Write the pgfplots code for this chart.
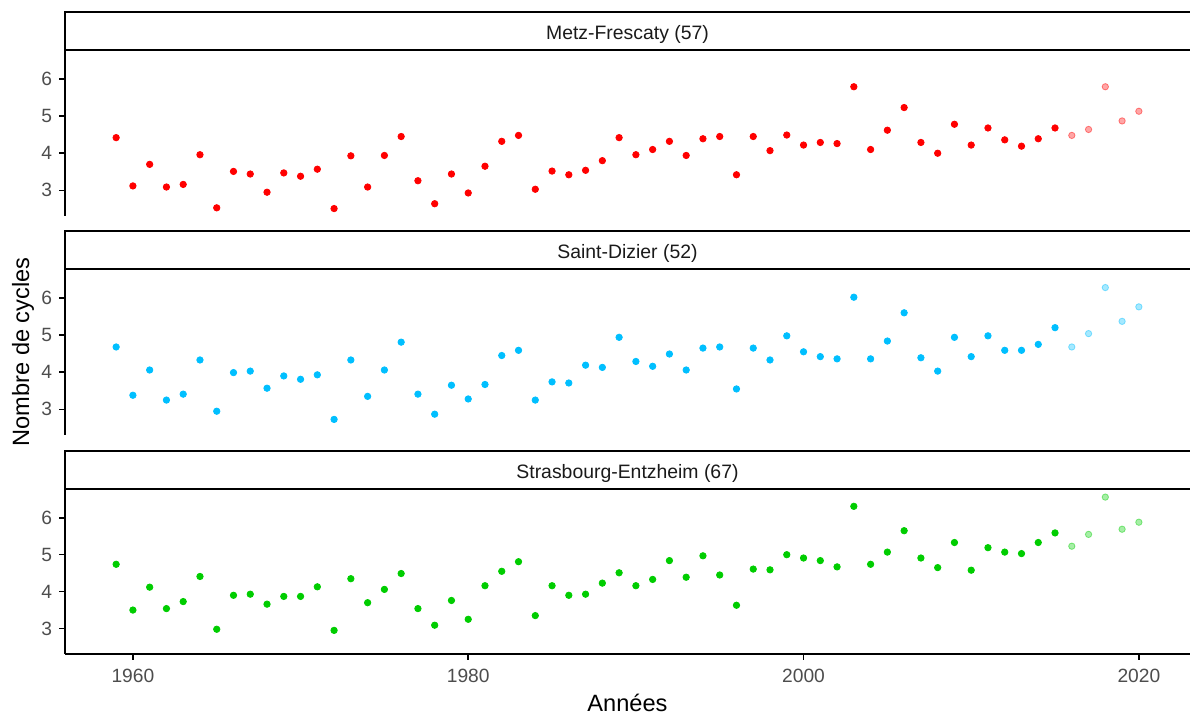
\documentclass[border=0pt]{standalone}
\usepackage{fontspec}
\setmainfont{Liberation Sans}
\usepackage{pgfplots}
\pgfplotsset{compat=1.18}
\definecolor{gthirty}{HTML}{4D4D4D}
\definecolor{gten}{HTML}{1A1A1A}
\definecolor{cred}{HTML}{FF0000}
\definecolor{cblue}{HTML}{00BFFF}
\definecolor{cgreen}{HTML}{00CD00}
\pgfplotsset{
  panel/.style={
    scale only axis, width=562.5pt, anchor=south west,
    xmin=1955.95, xmax=2023.05, ymin=2.31, ymax=6.78,
    ytick={3,4,5,6},
    axis y line*=left,
    axis line style={-, line width=0.8pt, black},
    tick style={line width=0.8pt, black},
    tick align=outside, major tick length=3pt,
    ticklabel style={font=\fontsize{9.6}{11}\selectfont, text=gthirty},
    xticklabel style={yshift=-1pt},
    /pgf/number format/assume math mode=true,
    /pgf/number format/1000 sep={},
    clip=false,
  },
  dk/.style={only marks, mark=*, mark size=1.6pt, draw=#1, fill=#1},
  lt/.style={only marks, mark=*, mark size=1.6pt, draw=#1, fill=#1, mark options={fill opacity=0.35, draw opacity=0.45}},
}
\newcommand{\strip}[1]{%
  \draw[line width=1pt, fill=white] (rel axis cs:0,1) rectangle ([yshift=19pt]rel axis cs:1.03,1);
  \node[font=\fontsize{9.7}{11}\selectfont, text=gten] at ([yshift=8pt]rel axis cs:0.5,1) {#1};
}
\begin{document}
\begin{tikzpicture}
\useasboundingbox (0,0) rectangle (595pt,358.5pt);
% Panel 1
\begin{axis}[panel, at={(32.5pt,250.5pt)}, height=83pt, axis x line=none, xtick=\empty]
\addplot[dk=cred] table {
1959 4.42
1960 3.12
1961 3.70
1962 3.09
1963 3.16
1964 3.96
1965 2.53
1966 3.51
1967 3.44
1968 2.95
1969 3.47
1970 3.38
1971 3.57
1972 2.51
1973 3.93
1974 3.09
1975 3.94
1976 4.45
1977 3.26
1978 2.64
1979 3.44
1980 2.93
1981 3.65
1982 4.32
1983 4.48
1984 3.03
1985 3.52
1986 3.42
1987 3.54
1988 3.80
1989 4.42
1990 3.96
1991 4.10
1992 4.32
1993 3.94
1994 4.39
1995 4.45
1996 3.42
1997 4.45
1998 4.07
1999 4.49
2000 4.22
2001 4.29
2002 4.26
2003 5.79
2004 4.10
2005 4.62
2006 5.23
2007 4.29
2008 4.00
2009 4.78
2010 4.22
2011 4.68
2012 4.36
2013 4.19
2014 4.39
2015 4.68
};
\addplot[lt=cred] table {
2016 4.48
2017 4.64
2018 5.79
2019 4.87
2020 5.13
};
\strip{Metz-Frescaty (57)}
\end{axis}
% Panel 2
\begin{axis}[panel, at={(32.5pt,141pt)}, height=83pt, axis x line=none, xtick=\empty]
\addplot[dk=cblue] table {
1959 4.68
1960 3.38
1961 4.06
1962 3.25
1963 3.41
1964 4.33
1965 2.95
1966 3.99
1967 4.03
1968 3.57
1969 3.90
1970 3.81
1971 3.93
1972 2.73
1973 4.33
1974 3.35
1975 4.06
1976 4.81
1977 3.41
1978 2.87
1979 3.65
1980 3.28
1981 3.67
1982 4.45
1983 4.59
1984 3.25
1985 3.74
1986 3.71
1987 4.19
1988 4.13
1989 4.94
1990 4.29
1991 4.16
1992 4.49
1993 4.06
1994 4.65
1995 4.68
1996 3.55
1997 4.65
1998 4.33
1999 4.98
2000 4.55
2001 4.42
2002 4.36
2003 6.02
2004 4.36
2005 4.84
2006 5.60
2007 4.39
2008 4.03
2009 4.94
2010 4.42
2011 4.98
2012 4.59
2013 4.59
2014 4.75
2015 5.20
};
\addplot[lt=cblue] table {
2016 4.68
2017 5.04
2018 6.28
2019 5.37
2020 5.76
};
\strip{Saint-Dizier (52)}
\end{axis}
% Panel 3
\begin{axis}[panel, at={(32.5pt,31.5pt)}, height=82.5pt, axis x line*=bottom,
  xtick={1960,1980,2000,2020}]
\addplot[dk=cgreen] table {
1959 4.74
1960 3.50
1961 4.12
1962 3.54
1963 3.73
1964 4.41
1965 2.98
1966 3.90
1967 3.93
1968 3.66
1969 3.87
1970 3.87
1971 4.13
1972 2.95
1973 4.35
1974 3.70
1975 4.06
1976 4.49
1977 3.54
1978 3.09
1979 3.76
1980 3.25
1981 4.16
1982 4.55
1983 4.81
1984 3.35
1985 4.16
1986 3.90
1987 3.93
1988 4.23
1989 4.51
1990 4.16
1991 4.33
1992 4.84
1993 4.39
1994 4.97
1995 4.45
1996 3.63
1997 4.61
1998 4.59
1999 5.00
2000 4.91
2001 4.84
2002 4.67
2003 6.31
2004 4.74
2005 5.07
2006 5.65
2007 4.91
2008 4.65
2009 5.33
2010 4.58
2011 5.19
2012 5.07
2013 5.03
2014 5.33
2015 5.59
};
\addplot[lt=cgreen] table {
2016 5.23
2017 5.55
2018 6.56
2019 5.69
2020 5.88
};
\strip{Strasbourg-Entzheim (67)}
\end{axis}
\node[font=\fontsize{11.8}{14}\selectfont, rotate=90] at (11.5pt,182.5pt) {Nombre de cycles};
\node[font=\fontsize{11.8}{14}\selectfont] at (313.75pt,7pt) {Années};
\end{tikzpicture}
\end{document}
